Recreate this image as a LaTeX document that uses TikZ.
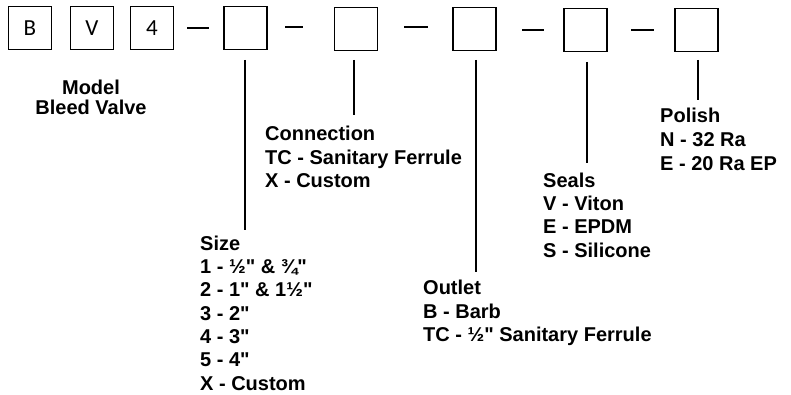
\documentclass[tikz,border=0pt]{standalone}
\usepackage{fontspec}
\setmainfont{Liberation Sans}[Ligatures=TeXOff]
\newfontfamily\boxfont{Carlito}
\begin{document}
\begin{tikzpicture}[x=1pt,y=-1pt,
  codebox/.style={draw,line width=1.8pt,minimum width=43pt,minimum height=43pt,inner sep=0pt,font=\boxfont\fontsize{23}{23}\selectfont},
  lbl/.style={anchor=base west,inner sep=0pt,align=left,font=\bfseries\fontsize{20}{23.33}\selectfont},
  ln/.style={line width=1.8pt}]
\useasboundingbox (0,0) rectangle (791,395);
\node[codebox] (bB) at (30,28) {B};
\node[codebox] (bV) at (92,28) {V};
\node[codebox] (b4) at (152,28) {4};
\node[codebox] (b5) at (245.5,28) {};
\node[codebox] (b6) at (356,29) {};
\node[codebox] (b7) at (474.5,29) {};
\node[codebox] (b8) at (585.5,30) {};
\node[codebox] (b9) at (696.5,30) {};
% dashes
\coordinate (d1a) at (187,28); \coordinate (d1b) at (209,28);
\coordinate (d2a) at (285,27); \coordinate (d2b) at (303,27);
\coordinate (d3a) at (404,27); \coordinate (d3b) at (428,27);
\coordinate (d4a) at (522,30); \coordinate (d4b) at (544,30);
\coordinate (d5a) at (631,30); \coordinate (d5b) at (654,30);
\draw[ln] (d1a) -- (d1b);
\draw[ln] (d2a) -- (d2b);
\draw[ln] (d3a) -- (d3b);
\draw[ln] (d4a) -- (d4b);
\draw[ln] (d5a) -- (d5b);
% leader lines
\coordinate (s5) at (245,60); \coordinate (e5) at (245,230);
\coordinate (s6) at (354,60); \coordinate (e6) at (354,115);
\coordinate (s7) at (476,60); \coordinate (e7) at (476,272);
\coordinate (s8) at (587,62); \coordinate (e8) at (587,163);
\coordinate (s9) at (698,60); \coordinate (e9) at (698,100);
\draw[ln] (s5) -- (e5);
\draw[ln] (s6) -- (e6);
\draw[ln] (s7) -- (e7);
\draw[ln] (s8) -- (e8);
\draw[ln] (s9) -- (e9);
% labels (anchor = baseline of last line)
\node[anchor=base,inner sep=0pt,align=center,font=\bfseries\fontsize{20}{20}\selectfont] (model) at (91,115) {Model\\Bleed Valve};
\node[lbl] (size) at (200,390) {Size\\1 - ½" \& ¾"\\2 - 1" \& 1½"\\3 - 2"\\4 - 3"\\5 - 4"\\X - Custom};
\node[lbl] (conn) at (265,187.5) {Connection\\TC - Sanitary Ferrule\\X - Custom};
\node[lbl] (outlet) at (423,341.5) {Outlet\\B - Barb\\TC - ½" Sanitary Ferrule};
\node[lbl] (seals) at (543,257) {Seals\\V - Viton\\E - EPDM\\S - Silicone};
\node[lbl,font=\bfseries\fontsize{20}{24}\selectfont] (polish) at (660,171) {Polish\\N - 32 Ra\\E - 20 Ra EP};
\end{tikzpicture}
\end{document}
